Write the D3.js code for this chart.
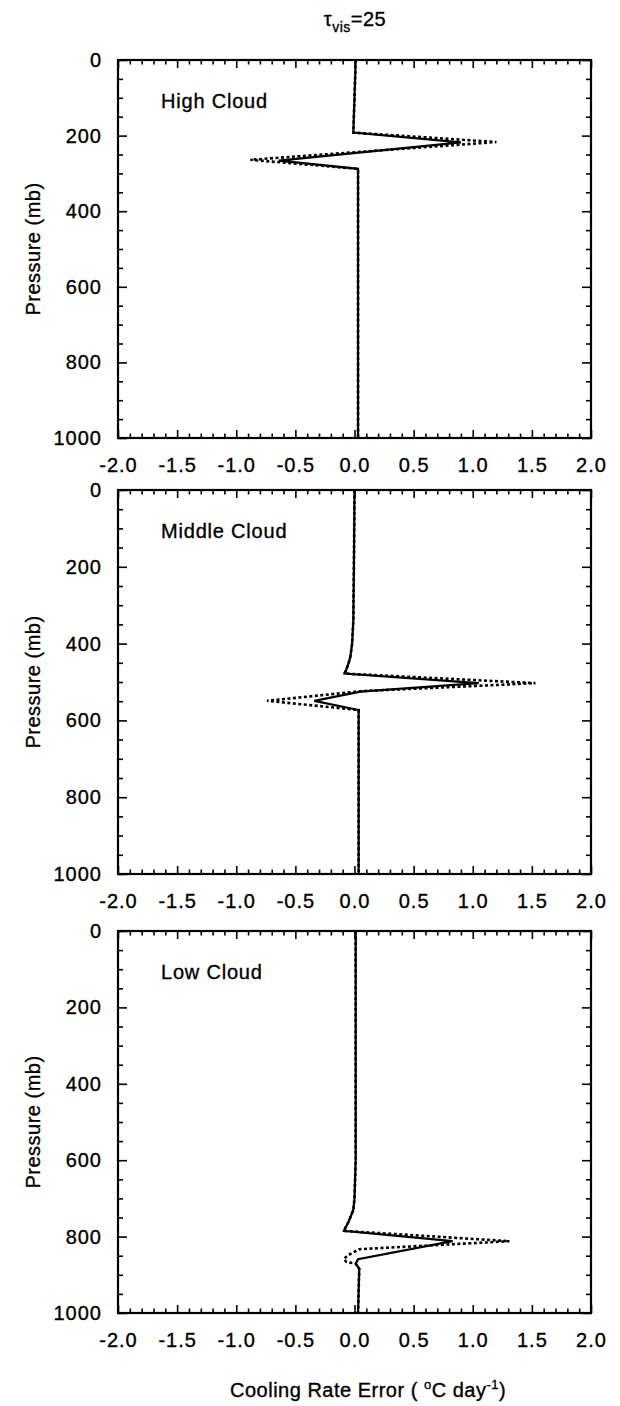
<!DOCTYPE html>
<html>
<head>
<meta charset="utf-8">
<script src="https://cdn.jsdelivr.net/npm/d3@7"></script>
<style>
  html, body { margin: 0; padding: 0; background: #fff; }
  svg { display: block; }
  text { font-family: "Liberation Sans", Arial, Helvetica, sans-serif; fill: #000; stroke: #000; stroke-width: 0.35px; }
</style>
</head>
<body>
<div id="chart"></div>
<script>
// --- Data: [cooling rate error (°C/day), pressure (mb)] ---
const panelLabels = ["High Cloud", "Middle Cloud", "Low Cloud"];

const highSolid = [[0.01, 0], [0.0, 100], [-0.01, 192], [0.90, 218], [-0.64, 266], [0.03, 288], [0.03, 500], [0.03, 1000]];
const highDotted = [[0.01, 0], [0.0, 100], [-0.01, 192], [1.20, 217], [-0.88, 264], [0.03, 288], [0.03, 500], [0.03, 1000]];

const midSolid = [[0.0, 0], [-0.005, 200], [-0.01, 340], [-0.02, 400], [-0.035, 434], [-0.05, 451], [-0.07, 468],
  [-0.085, 478], [1.05, 503], [0.05, 525], [-0.34, 549], [0.035, 573], [0.035, 1000]];
const midDotted = [[0.0, 0], [-0.005, 200], [-0.01, 340], [-0.02, 400], [-0.035, 434], [-0.05, 451], [-0.07, 468],
  [-0.085, 478], [1.53, 503], [0.05, 524], [-0.74, 549], [0.035, 573], [0.035, 1000]];

const lowSolid = [[0.01, 0], [0.01, 600], [0.0, 700], [-0.01, 730], [-0.05, 761], [-0.09, 785], [0.83, 812],
  [0.03, 859], [0.01, 871], [0.04, 884], [0.03, 1000]];
const lowDotted = [[0.01, 0], [0.01, 600], [0.0, 700], [-0.01, 730], [-0.05, 761], [-0.09, 785], [1.31, 812],
  [0.04, 833], [-0.05, 848], [-0.09, 858], [-0.07, 866], [0.01, 871], [0.04, 884], [0.03, 1000]];

// --- Axis ticks ---
const xMajorTicks = [-2.0, -1.5, -1.0, -0.5, 0.0, 0.5, 1.0, 1.5, 2.0];
const xTickLabels = ["-2.0", "-1.5", "-1.0", "-0.5", "0.0", "0.5", "1.0", "1.5", "2.0"];
const xMinorTicks = [-1.9, -1.8, -1.7, -1.6, -1.4, -1.3, -1.2, -1.1, -0.9, -0.8, -0.7, -0.6, -0.4, -0.3, -0.2, -0.1,
  0.1, 0.2, 0.3, 0.4, 0.6, 0.7, 0.8, 0.9, 1.1, 1.2, 1.3, 1.4, 1.6, 1.7, 1.8, 1.9];
const yMajorTicks = [0, 200, 400, 600, 800, 1000];
const yTickLabels = ["0", "200", "400", "600", "800", "1000"];
const yMinorTicks = [50, 100, 150, 250, 300, 350, 450, 500, 550, 650, 700, 750, 850, 900, 950];

// --- Layout ---
const width = 620, height = 1406;
const left = 118, right = 591;
const panelTops = [60, 490, 931];
const panelHeights = [378, 384, 382];

const panels = panelLabels.map((label, i) => ({
  label,
  solid: [highSolid, midSolid, lowSolid][i],
  dotted: [highDotted, midDotted, lowDotted][i],
  top: panelTops[i],
  bottom: panelTops[i] + panelHeights[i]
}));

const svg = d3.select("#chart").append("svg")
  .attr("width", width)
  .attr("height", height);

// Title: tau_vis = 25
const title = svg.append("text")
  .attr("x", 355)
  .attr("y", 26)
  .attr("text-anchor", "middle")
  .style("font-size", "20px")
  .style("letter-spacing", "0.5px");
title.append("tspan").text("τ");
title.append("tspan").attr("dy", 6).style("font-size", "14px").text("vis");
title.append("tspan").attr("dy", -6).text("=25");

const x = d3.scaleLinear().domain([-2, 2]).range([left, right]);

panels.forEach(p => {
  const y = d3.scaleLinear().domain([0, 1000]).range([p.top, p.bottom]);
  const g = svg.append("g");

  // ticks pointing inward on every side
  const tickAxis = (axis, pos, values, size, labels) => {
    const a = g.append("g")
      .attr("transform", pos)
      .call(axis.tickValues(values).tickSize(-size).tickSizeOuter(0)
        .tickPadding(labels ? labels.pad : 0)
        .tickFormat(labels ? (d, i) => labels.text[i] : ""));
    a.select(".domain").remove();
    a.selectAll(".tick line").attr("stroke", "#000").attr("stroke-width", 1.6);
    a.selectAll(".tick text")
      .style("font-size", "20px")
      .style("letter-spacing", "1px");
    return a;
  };

  const xAt = v => `translate(0,${v})`;
  const yAt = v => `translate(${v},0)`;

  tickAxis(d3.axisBottom(x), xAt(p.bottom), xMajorTicks, 8, { text: xTickLabels, pad: 20 });
  tickAxis(d3.axisBottom(x), xAt(p.bottom), xMinorTicks, 4.5);
  tickAxis(d3.axisTop(x), xAt(p.top), xMajorTicks, 8);
  tickAxis(d3.axisTop(x), xAt(p.top), xMinorTicks, 4.5);

  tickAxis(d3.axisLeft(y), yAt(left), yMajorTicks, 9, { text: yTickLabels, pad: 16 });
  tickAxis(d3.axisLeft(y), yAt(left), yMinorTicks, 5);
  tickAxis(d3.axisRight(y), yAt(right), yMajorTicks, 9);
  tickAxis(d3.axisRight(y), yAt(right), yMinorTicks, 5);

  // frame
  g.append("rect")
    .attr("x", left).attr("y", p.top)
    .attr("width", right - left).attr("height", p.bottom - p.top)
    .attr("fill", "none").attr("stroke", "#000").attr("stroke-width", 2.2);

  const line = d3.line().x(d => x(d[0])).y(d => y(d[1]));

  g.append("path")
    .datum(p.dotted)
    .attr("d", line)
    .attr("fill", "none").attr("stroke", "#000")
    .attr("stroke-width", 2.6)
    .attr("stroke-dasharray", "3,2.5");

  g.append("path")
    .datum(p.solid)
    .attr("d", line)
    .attr("fill", "none").attr("stroke", "#000")
    .attr("stroke-width", 2.2)
    .attr("stroke-linejoin", "miter");

  g.append("text")
    .attr("x", 161).attr("y", p.top + 48)
    .style("font-size", "20px")
    .style("letter-spacing", "0.8px")
    .text(p.label);

  g.append("text")
    .attr("transform", `translate(40,${(p.top + p.bottom) / 2}) rotate(-90)`)
    .attr("text-anchor", "middle")
    .style("font-size", "20px")
    .style("letter-spacing", "0.5px")
    .text("Pressure (mb)");
});

// x-axis title with superscripts
const xt = svg.append("text")
  .attr("x", 230)
  .attr("y", 1397)
  .style("font-size", "20px")
  .style("letter-spacing", "0.5px");
xt.append("tspan").text("Cooling Rate Error ( ");
xt.append("tspan").attr("dy", -8).style("font-size", "13px").text("o");
xt.append("tspan").attr("dy", 8).text("C day");
xt.append("tspan").attr("dy", -8).style("font-size", "13px").text("-1");
xt.append("tspan").attr("dy", 8).text(")");
</script>
</body>
</html>
